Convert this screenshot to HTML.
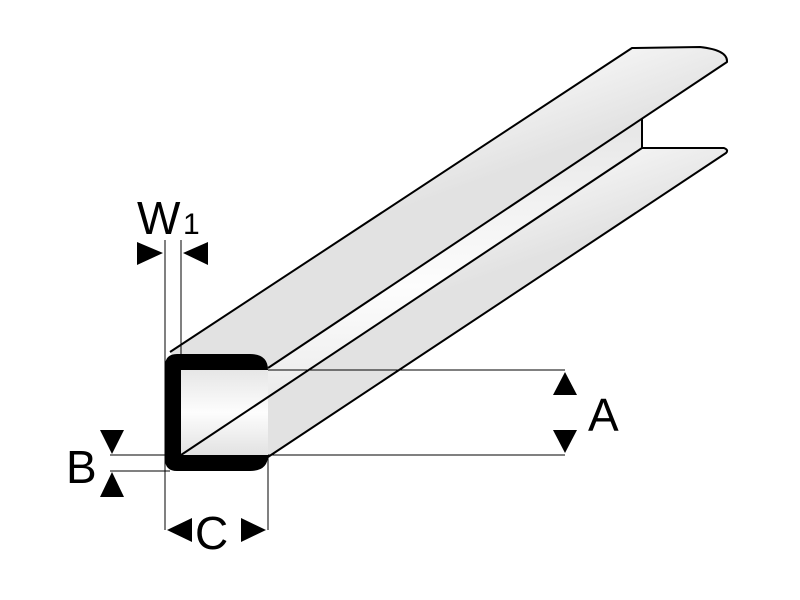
<!DOCTYPE html>
<html><head><style>html,body{margin:0;padding:0;background:#fff}svg{display:block}</style></head>
<body>
<svg width="800" height="600" viewBox="0 0 800 600" xmlns="http://www.w3.org/2000/svg">
<defs>
<linearGradient id="g" x1="0" y1="0" x2="0.35" y2="0.55">
<stop offset="0" stop-color="#e4e4e4"/><stop offset="0.5" stop-color="#fdfdfd"/><stop offset="1" stop-color="#e2e2e2"/>
</linearGradient>
<linearGradient id="g2" x1="0" y1="0" x2="0" y2="1">
<stop offset="0" stop-color="#e6e6e6"/><stop offset="0.5" stop-color="#fdfdfd"/><stop offset="1" stop-color="#e2e2e2"/>
</linearGradient>
</defs>
<path d="M170,352 L632,48 L700,47 Q727,50 727,62 L268,368 L181,368 Z" fill="url(#g)"/>
<path d="M181,370 L268,368 L642,118 L642,148 L181,455 Z" fill="url(#g2)"/>
<path d="M181,455 L642,148 L724,148 Q729,150 726,153 L268,457 Z" fill="url(#g)"/>
<path d="M181,370 L268,370 L268,455 L181,455 Z" fill="url(#g2)"/>
<g stroke="#000" stroke-width="2" fill="none" stroke-linejoin="round">
<path d="M170,352 L632,48 L700,47 Q728,50 727,62 L268,368"/>
<path d="M642,118 L642,148 L724,148 Q729,150 726,153 L268,457"/>
<path d="M181,455 L642,148"/>
</g>
<g stroke="#000" stroke-width="1" fill="none">
<path d="M165,240 V530 M181,240 V360 M268,455 V530 M268,370 H565 M268,455 H565 M110,455 H165 M110,471 H170"/>
</g>
<path d="M165,366 Q165,354 177,354 L250,354 Q268,354 268,370 L181,370 L181,455 L268,455 Q268,471 250,471 L177,471 Q165,471 165,459 Z" fill="#000"/>
<g fill="#000">
<polygon points="137,242 137,265 163,253"/>
<polygon points="208,242 208,265 183,253"/>
<polygon points="553,395 577,395 565,372"/>
<polygon points="553,430 577,430 565,453"/>
<polygon points="100,430 124,430 112,454"/>
<polygon points="100,497 124,497 112,472"/>
<polygon points="192,518 192,542 167,530"/>
<polygon points="241,518 241,542 266,530"/>
</g>
<g font-family="Liberation Sans, sans-serif" fill="#000">
<text x="137" y="234" font-size="46">W</text>
<text x="183" y="234" font-size="30">1</text>
<text x="588" y="431" font-size="46">A</text>
<text x="66" y="483" font-size="46">B</text>
<text x="195" y="549" font-size="46">C</text>
</g>
</svg>
</body></html>
